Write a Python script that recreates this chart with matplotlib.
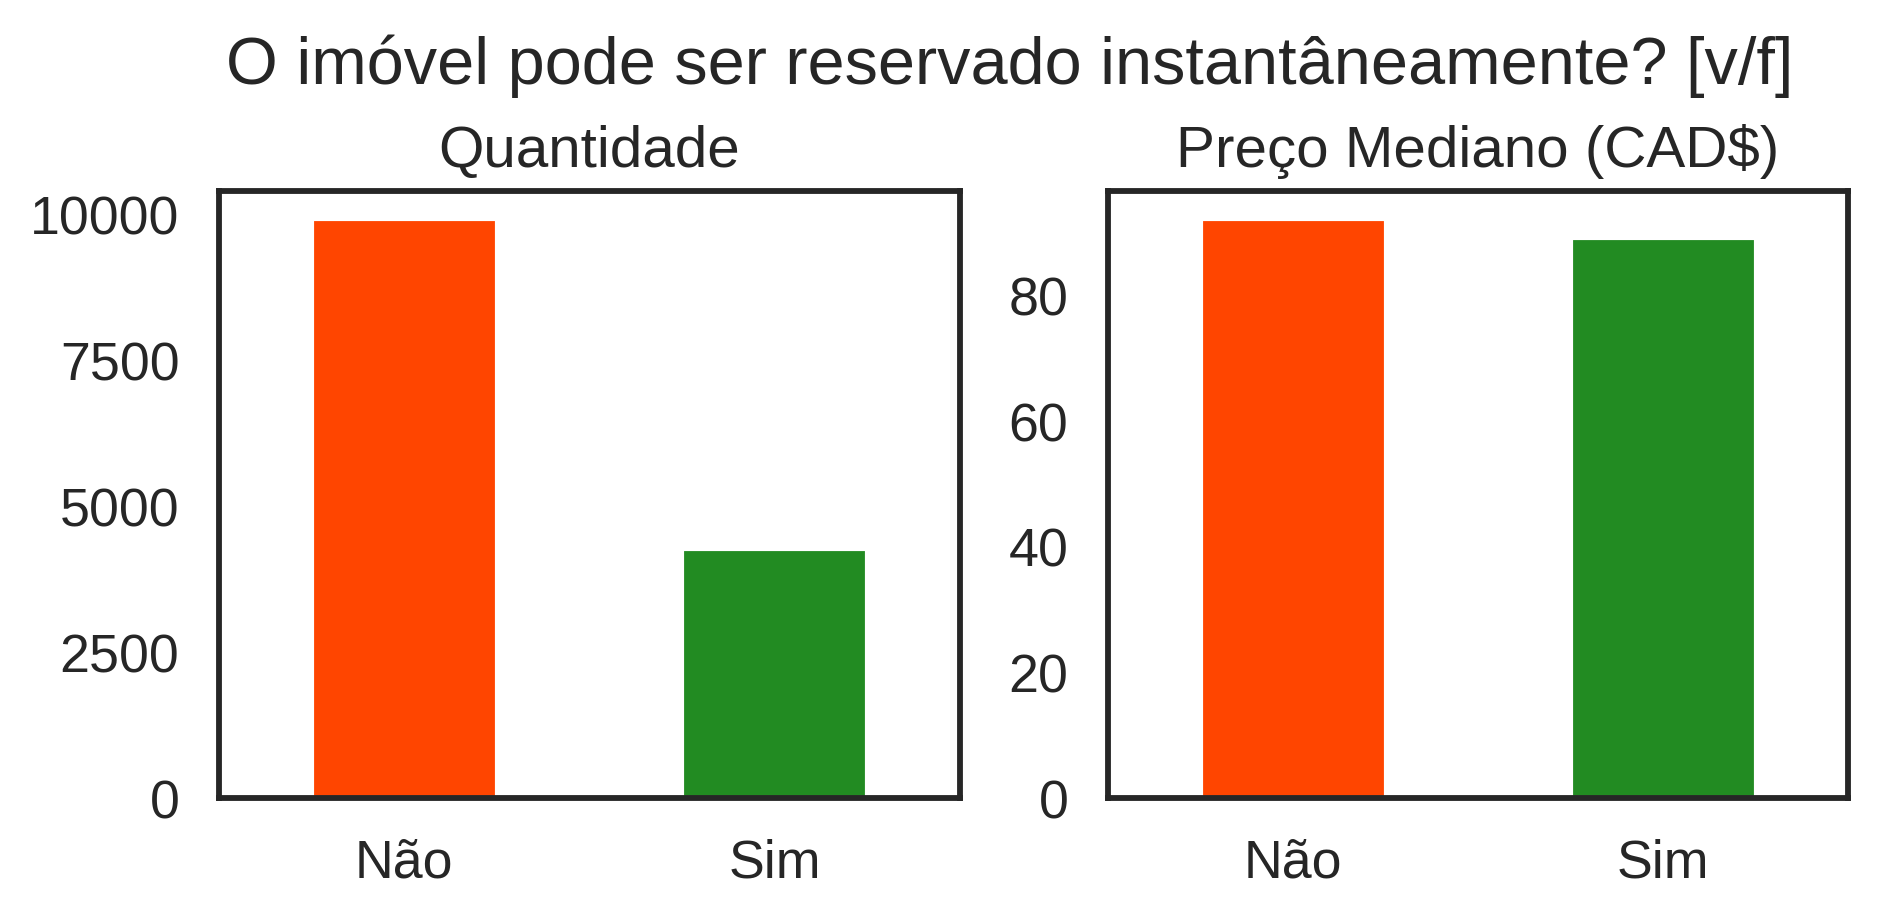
import matplotlib
matplotlib.use("Agg")
import matplotlib.pyplot as plt
import seaborn as sns

sns.set_theme(style="white")
plt.rcParams["font.family"] = ["Liberation Sans", "DejaVu Sans"]

# dados
categorias = ["Não", "Sim"]
quantidade = [9900, 4260]
preco_mediano = [92.0, 89.0]
cores = ["orangered", "forestgreen"]

fig = plt.figure(figsize=(18.77 / 3, 9.19 / 3), dpi=300)
ax1 = fig.add_axes([0.1167, 0.131, 0.3948, 0.6606])
ax2 = fig.add_axes([0.5903, 0.131, 0.3943, 0.6606])

for ax, vals, titulo in [(ax1, quantidade, "Quantidade"),
                         (ax2, preco_mediano, "Preço Mediano (CAD$)")]:
    ax.bar(range(len(categorias)), vals, width=0.5, color=cores)
    ax.set_xticks(range(len(categorias)))
    ax.set_xticklabels(categorias)
    ax.set_xlim(-0.5, 1.5)
    ax.set_title(titulo, fontsize=14, pad=6)
    ax.tick_params(labelsize=12.9, length=0, pad=9.5)
    for s in ax.spines.values():
        s.set_color("#262626")
        s.set_linewidth(1.4)

ax1.set_yticks([0, 2500, 5000, 7500, 10000])
ax2.set_yticks([0, 20, 40, 60, 80])

fig.suptitle("O imóvel pode ser reservado instantâneamente? [v/f]", fontsize=16,
             x=0.538, y=0.962)
fig.savefig("out.png", dpi=300)
